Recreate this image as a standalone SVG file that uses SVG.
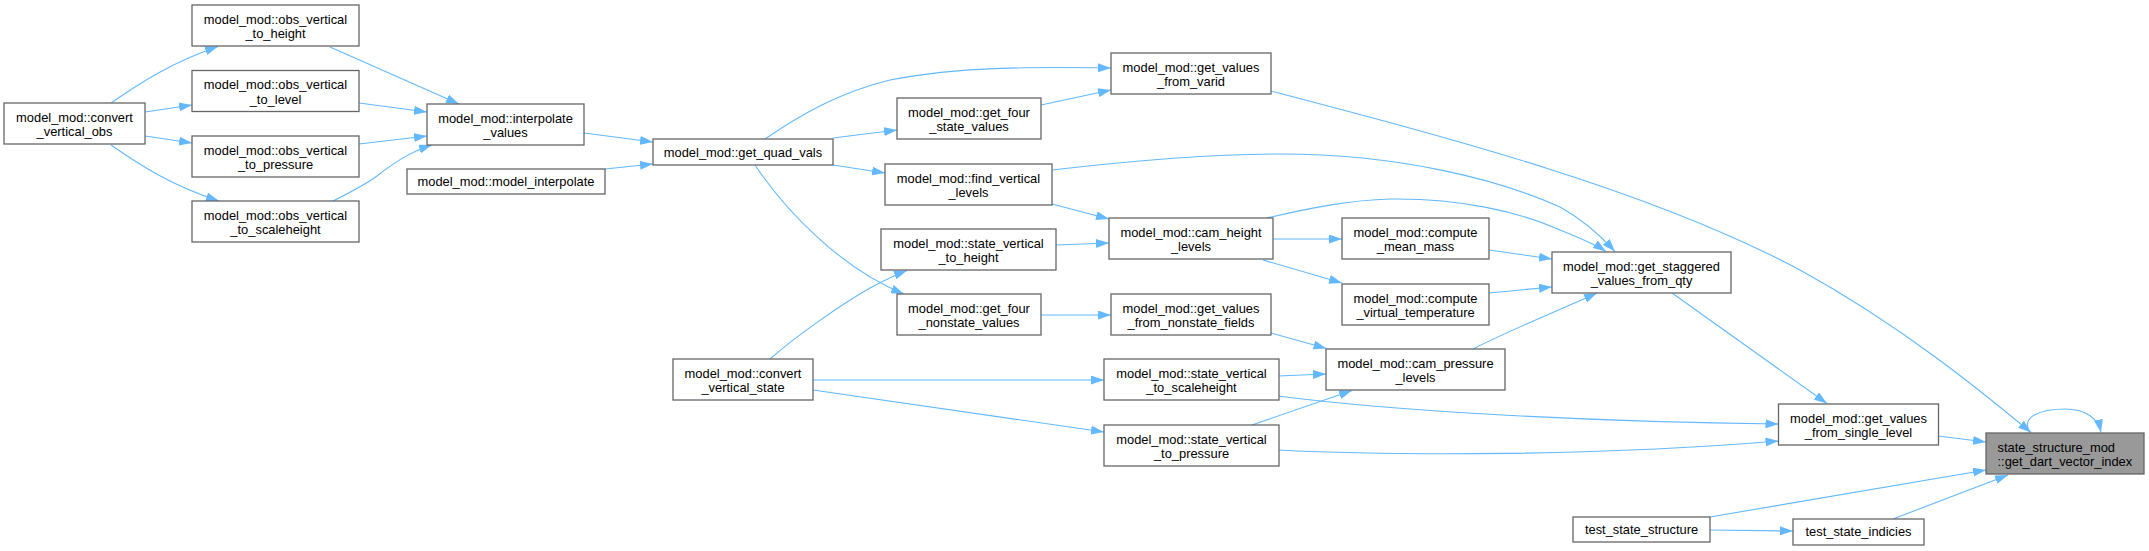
<svg xmlns="http://www.w3.org/2000/svg" width="2149" height="551" viewBox="0 0 2149 551">
<style>
.n rect{fill:#ffffff;stroke:#666666;stroke-width:1.3}
.n text{font-family:"Liberation Sans",Arial,Helvetica,sans-serif;font-size:12.9px;fill:#000000;text-anchor:middle}
.n.hl rect{fill:#999999}
.n.hl text{text-anchor:start}
.e path{fill:none;stroke:#63b8ff;stroke-width:1.1;marker-end:url(#ah)}
</style>
<defs>
<marker id="ah" viewBox="0 0 13 9" markerWidth="13" markerHeight="9" markerUnits="userSpaceOnUse" refX="13" refY="4.5" orient="auto">
<path d="M0,0 L13,4.5 L0,9 z" fill="#63b8ff"/>
</marker>
</defs>
<rect width="2149" height="551" fill="#ffffff"/>
<g id="edges" class="e">
<path d="M111,103 C140,83 170,63 218,46.5"/>
<path d="M111,145 C140,165 170,185 219,201"/>
<path d="M145,112 L192,105"/>
<path d="M145,136 L192,143"/>
<path d="M330,47 L459,104"/>
<path d="M359,103 L427,112"/>
<path d="M359,144 L427,136"/>
<path d="M333,201 C355,190 366,184 377,176 C395,162 410,152 432,145"/>
<path d="M584,133 L653,142"/>
<path d="M605,169 L653,164"/>
<path d="M765,139 C800,115 840,92 890,80 C960,66 1040,67 1111,68"/>
<path d="M833,138 L897,130"/>
<path d="M833,165 L885,173"/>
<path d="M755,165 C785,210 840,268 904,294"/>
<path d="M1041,105 L1111,90"/>
<path d="M1052,170 C1130,161 1210,154 1280,154 C1400,154 1500,180 1560,207 C1580,218 1600,235 1615,251.5"/>
<path d="M1052,204 L1109,219"/>
<path d="M1056,245 L1109,243"/>
<path d="M1267,218 C1310,208 1350,200 1390,199 C1460,198 1520,212 1560,230 C1580,238 1595,244 1606,251.5"/>
<path d="M1273,239 L1342,239"/>
<path d="M1263,260 L1342,283"/>
<path d="M1489,250 L1552,259"/>
<path d="M1489,293 L1552,287"/>
<path d="M1473,349 C1510,330 1560,310 1597,293"/>
<path d="M1041,315 L1111,315"/>
<path d="M1271,333 L1326.5,348.5"/>
<path d="M1278,376 L1326,374"/>
<path d="M1252,425 L1352,390.5"/>
<path d="M770,359 C795,337 840,305 870,288 C885,280 895,275 907,270.5"/>
<path d="M813,380 L1104,380"/>
<path d="M813,390 L1104,432"/>
<path d="M1278,396 C1400,412 1600,422 1778.5,424"/>
<path d="M1278,450 C1400,456 1600,456 1778.5,441"/>
<path d="M1672,293 L1827,403.5"/>
<path d="M1938,436 L1986,442"/>
<path d="M1271,91 C1450,138 1650,190 1800,270 C1900,325 1980,390 2031,432.5"/>
<path d="M1710,517 L1986,470"/>
<path d="M1710,530 L1793,531"/>
<path d="M1893,519 L2008,475"/>
<path d="M2030,432.5 C2020,417 2040,409 2065,409 C2085,409 2098,418 2101,432.5"/>
</g>
<g id="convert_vertical_obs" class="n"><rect x="4" y="103" width="141" height="41"/><text x="74.5" y="121.6">model_mod::convert</text><text x="74.5" y="136">_vertical_obs</text></g>
<g id="obs_vertical_to_height" class="n"><rect x="192" y="5" width="167" height="41"/><text x="275.5" y="23.6">model_mod::obs_vertical</text><text x="275.5" y="38">_to_height</text></g>
<g id="obs_vertical_to_level" class="n"><rect x="192" y="70.5" width="167" height="41"/><text x="275.5" y="89.1">model_mod::obs_vertical</text><text x="275.5" y="103.5">_to_level</text></g>
<g id="obs_vertical_to_pressure" class="n"><rect x="192" y="136" width="167" height="41"/><text x="275.5" y="154.6">model_mod::obs_vertical</text><text x="275.5" y="169">_to_pressure</text></g>
<g id="obs_vertical_to_scaleheight" class="n"><rect x="192" y="201" width="167" height="41"/><text x="275.5" y="219.6">model_mod::obs_vertical</text><text x="275.5" y="234">_to_scaleheight</text></g>
<g id="interpolate_values" class="n"><rect x="427" y="104" width="157" height="41"/><text x="505.5" y="122.6">model_mod::interpolate</text><text x="505.5" y="137">_values</text></g>
<g id="model_interpolate" class="n"><rect x="407" y="169" width="198" height="25"/><text x="506" y="186">model_mod::model_interpolate</text></g>
<g id="get_quad_vals" class="n"><rect x="653" y="139" width="180" height="26"/><text x="743" y="156.5">model_mod::get_quad_vals</text></g>
<g id="get_values_from_varid" class="n"><rect x="1111" y="53" width="160" height="41"/><text x="1191" y="71.6">model_mod::get_values</text><text x="1191" y="86">_from_varid</text></g>
<g id="get_four_state_values" class="n"><rect x="897" y="98" width="144" height="41"/><text x="969" y="116.6">model_mod::get_four</text><text x="969" y="131">_state_values</text></g>
<g id="find_vertical_levels" class="n"><rect x="885" y="164" width="167" height="41"/><text x="968.5" y="182.6">model_mod::find_vertical</text><text x="968.5" y="197">_levels</text></g>
<g id="cam_height_levels" class="n"><rect x="1109" y="218" width="164" height="41"/><text x="1191" y="236.6">model_mod::cam_height</text><text x="1191" y="251">_levels</text></g>
<g id="state_vertical_to_height" class="n"><rect x="881" y="229" width="175" height="41"/><text x="968.5" y="247.6">model_mod::state_vertical</text><text x="968.5" y="262">_to_height</text></g>
<g id="get_four_nonstate_values" class="n"><rect x="897" y="294" width="144" height="41"/><text x="969" y="312.6">model_mod::get_four</text><text x="969" y="327">_nonstate_values</text></g>
<g id="get_values_from_nonstate_fields" class="n"><rect x="1111" y="294" width="160" height="41"/><text x="1191" y="312.6">model_mod::get_values</text><text x="1191" y="327">_from_nonstate_fields</text></g>
<g id="convert_vertical_state" class="n"><rect x="673" y="359" width="140" height="41"/><text x="743" y="377.6">model_mod::convert</text><text x="743" y="392">_vertical_state</text></g>
<g id="state_vertical_to_scaleheight" class="n"><rect x="1104" y="359" width="175" height="41"/><text x="1191.5" y="377.6">model_mod::state_vertical</text><text x="1191.5" y="392">_to_scaleheight</text></g>
<g id="state_vertical_to_pressure" class="n"><rect x="1104" y="425" width="175" height="41"/><text x="1191.5" y="443.6">model_mod::state_vertical</text><text x="1191.5" y="458">_to_pressure</text></g>
<g id="compute_mean_mass" class="n"><rect x="1342" y="218" width="147" height="41"/><text x="1415.5" y="236.6">model_mod::compute</text><text x="1415.5" y="251">_mean_mass</text></g>
<g id="compute_virtual_temperature" class="n"><rect x="1342" y="284" width="147" height="41"/><text x="1415.5" y="302.6">model_mod::compute</text><text x="1415.5" y="317">_virtual_temperature</text></g>
<g id="cam_pressure_levels" class="n"><rect x="1326" y="349" width="179" height="41"/><text x="1415.5" y="367.6">model_mod::cam_pressure</text><text x="1415.5" y="382">_levels</text></g>
<g id="get_staggered_values_from_qty" class="n"><rect x="1552" y="252" width="179" height="41"/><text x="1641.5" y="270.6">model_mod::get_staggered</text><text x="1641.5" y="285">_values_from_qty</text></g>
<g id="get_values_from_single_level" class="n"><rect x="1778.5" y="404" width="160" height="41"/><text x="1858.5" y="422.6">model_mod::get_values</text><text x="1858.5" y="437">_from_single_level</text></g>
<g id="get_dart_vector_index" class="n hl"><rect x="1986" y="433" width="158" height="41"/><text x="1997.5" y="451.6">state_structure_mod</text><text x="1997.5" y="466">::get_dart_vector_index</text></g>
<g id="test_state_structure" class="n"><rect x="1573" y="517" width="137" height="25"/><text x="1641.5" y="533.8">test_state_structure</text></g>
<g id="test_state_indicies" class="n"><rect x="1793" y="519" width="131" height="26"/><text x="1858.5" y="536.3">test_state_indicies</text></g>
</svg>
